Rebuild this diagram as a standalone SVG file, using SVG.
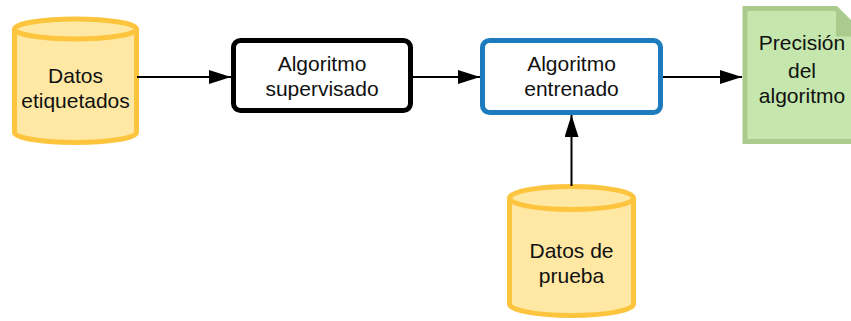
<svg xmlns="http://www.w3.org/2000/svg" width="851" height="321" viewBox="0 0 851 321">
<defs>
<marker id="ah" markerWidth="22" markerHeight="14" refX="22" refY="7" orient="auto" markerUnits="userSpaceOnUse">
<path d="M0,0 L22,7 L0,14 Z" fill="#000"/>
</marker>
</defs>
<style>
.cyl{fill:#ffe8a4;stroke:#fdc43e;stroke-width:5;}
.t{font-family:"Liberation Sans",Arial,sans-serif;font-size:21px;fill:#111;text-anchor:middle;}
.conn{stroke:#000;stroke-width:2;fill:none;marker-end:url(#ah);}
</style>
<rect width="851" height="321" fill="#fff"/>
<g id="datos-etiquetados">
<path class="cyl" d="M14.5,29 A61,10 0 0 1 136.5,29 L136.5,132.5 A61,10 0 0 1 14.5,132.5 Z"/>
<path class="cyl" d="M14.5,29 A61,10 0 0 0 136.5,29"/>
<text class="t" x="75.5" y="83">Datos</text>
<text class="t" x="75.5" y="108">etiquetados</text>
</g>
<g id="algoritmo-supervisado">
<rect x="233.5" y="40.5" width="177" height="70" rx="7" fill="#fff" stroke="#000" stroke-width="5"/>
<text class="t" x="322" y="71">Algoritmo</text>
<text class="t" x="322" y="96">supervisado</text>
</g>
<g id="algoritmo-entrenado">
<rect x="482.5" y="40.5" width="178" height="72" rx="7" fill="#fff" stroke="#1c7cbe" stroke-width="5"/>
<text class="t" x="571.5" y="71">Algoritmo</text>
<text class="t" x="571.5" y="96">entrenado</text>
</g>
<g id="precision">
<path d="M745,8.5 L836,8.5 L864,36.5 L864,141.5 L745,141.5 Z" fill="#c5e7ad" stroke="#a9cc8e" stroke-width="5"/>
<path d="M836,8.5 L836,36.5 L864,36.5 Z" fill="#a9cc8e"/>
<text class="t" x="802" y="50">Precisión</text>
<text class="t" x="802" y="78">del</text>
<text class="t" x="802" y="103">algoritmo</text>
</g>
<g id="datos-de-prueba">
<path class="cyl" d="M509.5,198 A62,11.5 0 0 1 633.5,198 L633.5,304 A62,11.5 0 0 1 509.5,304 Z"/>
<path class="cyl" d="M509.5,198 A62,11.5 0 0 0 633.5,198"/>
<text class="t" x="571.5" y="258">Datos de</text>
<text class="t" x="571.5" y="283">prueba</text>
</g>
<g id="connectors">
<line class="conn" x1="137" y1="77" x2="231" y2="77"/>
<line class="conn" x1="413" y1="77" x2="480" y2="77"/>
<line class="conn" x1="663" y1="77" x2="742" y2="77"/>
<line class="conn" x1="571.5" y1="186" x2="571.5" y2="115"/>
</g>
</svg>
